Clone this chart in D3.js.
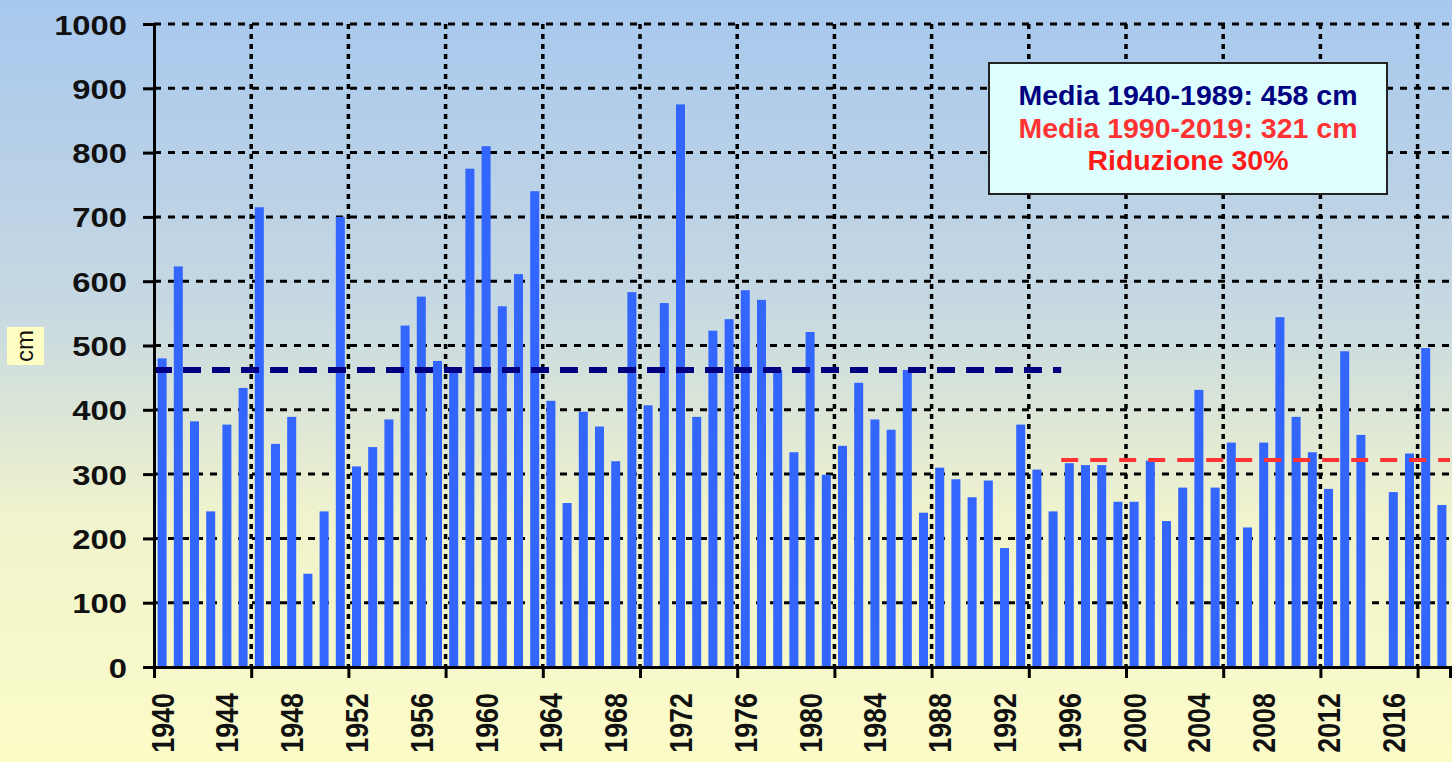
<!DOCTYPE html>
<html>
<head>
<meta charset="utf-8">
<script src="https://cdn.jsdelivr.net/npm/d3@7"></script>
<style>
  html, body { margin: 0; padding: 0; overflow: hidden; }
  svg { display: block; font-family: "Liberation Sans", Arial, sans-serif; }
</style>
</head>
<body>
<div id="chart"></div>
<script>
// anni e neve fresca (cm); 2015 senza dato
const years = d3.range(1940, 2020);
const snow = [
  480, 623, 382, 242, 377, 434, 715, 347, 389, 145,
  242, 700, 312, 342, 385, 531, 576, 476, 460, 775,
  810, 561, 611, 740, 414, 255, 397, 374, 320, 583,
  407, 566, 875, 389, 523, 541, 586, 571, 462, 334,
  521, 299, 344, 442, 385, 369, 462, 240, 310, 292,
  264, 290, 185, 377, 307, 242, 317, 314, 314, 257,
  257, 321, 227, 279, 431, 279, 349, 217, 349, 544,
  389, 334, 277, 491, 361, null, 272, 332, 496, 252
];
const yTicks = d3.range(0, 1001, 100);
const labelYears = d3.range(1940, 2020, 4);
const gridYears = d3.range(1940, 2020, 6);

// medie di periodo (linee tratteggiate)
const meanLines = [
  { from: 1940, to: 1996, value: 462, color: "#000080", width: 6, dash: "18 11" },
  { from: 1996, to: 2020, value: 322, color: "#FF3333", width: 4, dash: "17 12" }
];
const legendLines = [
  { text: "Media 1940-1989: 458 cm", color: "#000080" },
  { text: "Media 1990-2019: 321 cm", color: "#FF3333" },
  { text: "Riduzione 30%", color: "#FF1A1A" }
];

const width = 1452, height = 762;
const margin = { top: 24, left: 154, right: 2, bottom: 95 };
const plotBottom = height - margin.bottom;
const font = '"Liberation Sans", Arial, sans-serif';

const svg = d3.select("#chart").append("svg")
  .attr("width", width)
  .attr("height", height);

// sfondo sfumato azzurro -> giallo
const grad = svg.append("defs").append("linearGradient")
  .attr("id", "bg").attr("x1", 0).attr("y1", 0).attr("x2", 0).attr("y2", 1);
grad.append("stop").attr("offset", "0%").attr("stop-color", "#A7C8EE");
grad.append("stop").attr("offset", "40%").attr("stop-color", "#C6D8E2");
grad.append("stop").attr("offset", "68%").attr("stop-color", "#F0F3CC");
grad.append("stop").attr("offset", "100%").attr("stop-color", "#FCFCC8");
svg.append("rect").attr("width", width).attr("height", height).attr("fill", "url(#bg)");

// scale
const x = d3.scaleBand()
  .domain(years)
  .range([margin.left, width - margin.right])
  .paddingInner(0.444)
  .paddingOuter(0.222);
const xYear = d3.scaleLinear()
  .domain([1940, 2020])
  .range([margin.left, width - margin.right]);
const y = d3.scaleLinear()
  .domain([0, 1000])
  .range([plotBottom, margin.top]);

// griglia orizzontale
svg.append("g")
  .selectAll("line")
  .data(yTicks.filter(d => d > 0))
  .join("line")
  .attr("x1", margin.left)
  .attr("x2", width)
  .attr("y1", d => y(d))
  .attr("y2", d => y(d))
  .attr("stroke", "#000")
  .attr("stroke-width", 3)
  .attr("stroke-dasharray", "7 7")
  .attr("stroke-dashoffset", -14);

// griglia verticale (ogni 6 anni)
svg.append("g")
  .selectAll("line")
  .data(gridYears.filter(d => d > 1940))
  .join("line")
  .attr("x1", d => xYear(d))
  .attr("x2", d => xYear(d))
  .attr("y1", margin.top)
  .attr("y2", plotBottom)
  .attr("stroke", "#000")
  .attr("stroke-width", 3.5)
  .attr("stroke-dasharray", "5 5");

// barre
svg.append("g")
  .selectAll("rect")
  .data(years.map((yr, i) => ({ yr, v: snow[i] })).filter(d => d.v != null))
  .join("rect")
  .attr("x", d => x(d.yr))
  .attr("width", x.bandwidth())
  .attr("y", d => y(d.v))
  .attr("height", d => plotBottom - y(d.v))
  .attr("fill", "#3366FF");

// linee delle medie
svg.append("g")
  .selectAll("line")
  .data(meanLines)
  .join("line")
  .attr("x1", d => xYear(d.from))
  .attr("x2", d => Math.min(xYear(d.to), width))
  .attr("y1", d => y(d.value))
  .attr("y2", d => y(d.value))
  .attr("stroke", d => d.color)
  .attr("stroke-width", d => d.width)
  .attr("stroke-dasharray", d => d.dash);

// asse y
const yAxis = svg.append("g")
  .attr("transform", `translate(${margin.left},0)`)
  .call(d3.axisLeft(y).tickValues(yTicks).tickFormat(d3.format("d")).tickSize(11).tickPadding(0))
  .attr("font-family", font);
yAxis.select(".domain").attr("stroke", "#000").attr("stroke-width", 3);
yAxis.selectAll(".tick line").attr("stroke", "#000").attr("stroke-width", 3);
yAxis.selectAll(".tick text")
  .attr("x", -27 / 1.17)
  .attr("transform", "scale(1.17,1)")
  .attr("dy", "0.36em")
  .attr("fill", "#111")
  .attr("font-size", 28)
  .attr("font-weight", "bold");

// asse x: tacche ogni 6 anni, etichette ogni 4
const xTickAxis = svg.append("g")
  .attr("transform", `translate(0,${plotBottom})`)
  .call(d3.axisBottom(xYear).tickValues(gridYears.concat([2020])).tickSize(11).tickFormat(""));
xTickAxis.select(".domain").attr("stroke", "#000").attr("stroke-width", 3);
xTickAxis.selectAll(".tick line").attr("stroke", "#000").attr("stroke-width", 3);

const xLabelAxis = svg.append("g")
  .attr("transform", `translate(0,${plotBottom})`)
  .call(d3.axisBottom(x).tickValues(labelYears).tickSize(0))
  .attr("font-family", font);
xLabelAxis.select(".domain").remove();
xLabelAxis.selectAll(".tick text")
  .attr("transform", "rotate(-90) scale(0.84,1)")
  .attr("text-anchor", "end")
  .attr("x", -26 / 0.84)
  .attr("y", 0)
  .attr("dy", "0.36em")
  .attr("fill", "#111")
  .attr("font-size", 32)
  .attr("font-weight", "bold");

// titolo asse y
svg.append("rect")
  .attr("x", 7).attr("y", 327).attr("width", 37).attr("height", 38)
  .attr("fill", "#FFFFC4");
svg.append("text")
  .attr("transform", "translate(25,346) rotate(-90)")
  .attr("text-anchor", "middle")
  .attr("dy", "0.35em")
  .attr("font-size", 24)
  .attr("fill", "#111")
  .text("cm");

// riquadro con le medie
const box = svg.append("g");
box.append("rect")
  .attr("x", 989).attr("y", 63).attr("width", 398).attr("height", 131)
  .attr("fill", "#DFFFFF")
  .attr("stroke", "#222")
  .attr("stroke-width", 2);
box.selectAll("text")
  .data(legendLines)
  .join("text")
  .attr("x", 1188)
  .attr("y", (d, i) => 105 + i * 32.5)
  .attr("text-anchor", "middle")
  .attr("font-size", 28.5)
  .attr("font-weight", "bold")
  .attr("fill", d => d.color)
  .text(d => d.text);
</script>
</body>
</html>
